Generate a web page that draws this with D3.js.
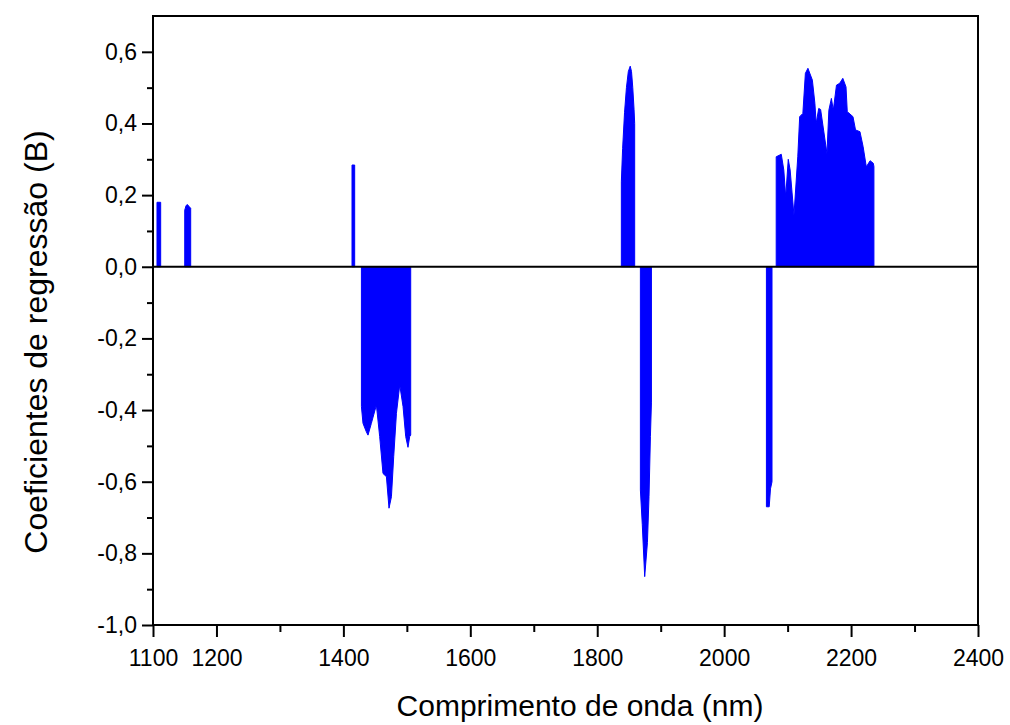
<!DOCTYPE html>
<meta charset="utf-8">
<html>
<head>
<script src="https://cdn.jsdelivr.net/npm/d3@7"></script>
<style>
body { margin:0; background:#fff; }
svg text { font-family:"Liberation Sans", Arial, sans-serif; fill:#000; }
.tick line { stroke:#000; stroke-width:2; }
.tick text { font-size:23px; }
.domain { display:none; }
</style>
</head>
<body>
<script>

// regression coefficient bands, [wavelength nm, B]
var band1107 = [[1106.3, 0.18], [1112.1, 0.18]];
var band1150 = [[1150, 0.158], [1152, 0.170], [1154, 0.174], [1157, 0.168], [1159.4, 0.163]];
var band1415 = [[1413.6, 0.284], [1417.8, 0.284]];
var band1470 = [[1428.4, -0.39], [1430.9, -0.437], [1436, -0.46], [1438.8, -0.47], [1444.1, -0.437],
  [1452, -0.386], [1457.2, -0.474], [1462.4, -0.577], [1467.8, -0.586], [1471.9, -0.674],
  [1475.7, -0.642], [1479.3, -0.53], [1483.6, -0.409], [1488.8, -0.33], [1494, -0.39],
  [1498.2, -0.474], [1501.8, -0.504], [1504.5, -0.474], [1506.1, -0.47]];
var band1850 = [[1838, 0.237], [1840, 0.33], [1843, 0.43], [1846, 0.50], [1849, 0.545], [1852, 0.56],
  [1854, 0.545], [1856, 0.50], [1858, 0.44], [1859, 0.40]];
var band1875 = [[1868, -0.623], [1871, -0.72], [1874.8, -0.865], [1879.1, -0.77], [1881.6, -0.642],
  [1883.8, -0.474], [1885.4, -0.38]];
var band2070 = [[2066.6, -0.67], [2071, -0.67], [2073, -0.62], [2075.4, -0.60]];
var band2160 = [[2082, 0.307], [2090, 0.314], [2094, 0.27], [2097, 0.195], [2101, 0.30], [2104, 0.27],
  [2110, 0.144], [2116, 0.307], [2119, 0.419], [2124, 0.428], [2128, 0.54], [2132, 0.554],
  [2139, 0.521], [2143, 0.456], [2145, 0.40], [2149, 0.442], [2152, 0.439], [2156, 0.39],
  [2162, 0.316], [2165, 0.437], [2169, 0.47], [2172, 0.437], [2177, 0.507], [2182, 0.512],
  [2187, 0.526], [2192, 0.502], [2194, 0.433], [2203, 0.419], [2207, 0.382], [2214, 0.377],
  [2219, 0.335], [2224, 0.279], [2230, 0.296], [2235, 0.289], [2236, 0.28]];

var bands = [band1107, band1150, band1415, band1470, band1850, band1875, band2070, band2160];

// ticks
var xTicks = [1100, 1200, 1400, 1600, 1800, 2000, 2200, 2400];
var xMinor = [1300, 1500, 1700, 1900, 2100, 2300];
var yTicks = [-1.0, -0.8, -0.6, -0.4, -0.2, 0.0, 0.2, 0.4, 0.6];
var yMinor = [-0.9, -0.7, -0.5, -0.3, -0.1, 0.1, 0.3, 0.5];

//Margin conventions (plot box in page pixels)
var m = {left:153, right:978, top:16, bottom:625};

var svg = d3.select("body").append("svg")
    .attr("width", 1010)
    .attr("height", 725);

var x = d3.scaleLinear().domain([1100, 2400]).range([m.left, m.right]);
var y = d3.scaleLinear().domain([-1.0, 0.7]).range([m.bottom, m.top]);

function fmt(v) {
  var s = Math.abs(v).toFixed(1).replace(".", ",");
  return (v < -1e-9 ? "-" : "") + s;
}

// filled coefficient bands
var area = d3.area()
    .x(d => x(d[0]))
    .y0(y(0))
    .y1(d => y(d[1]));

svg.selectAll("path.band")
    .data(bands)
    .enter()
    .append("path")
    .attr("class", "band")
    .attr("d", area)
    .attr("fill", "#0000ff")
    .attr("stroke", "#0000ff")
    .attr("stroke-width", 1);

// zero line
svg.append("line")
    .attr("x1", m.left).attr("x2", m.right)
    .attr("y1", y(0)).attr("y2", y(0))
    .attr("stroke", "#000")
    .attr("stroke-width", 2);

// axes
svg.append("g")
    .attr("transform", `translate(0, ${m.bottom})`)
    .call(d3.axisBottom(x).tickValues(xTicks).tickSize(12).tickPadding(13).tickFormat(d3.format("d")));
svg.append("g")
    .attr("transform", `translate(0, ${m.bottom})`)
    .call(d3.axisBottom(x).tickValues(xMinor).tickSize(7).tickFormat(""));

svg.append("g")
    .attr("transform", `translate(${m.left}, 0)`)
    .call(d3.axisLeft(y).tickValues(yTicks).tickSize(11).tickPadding(5).tickFormat(fmt));
svg.append("g")
    .attr("transform", `translate(${m.left}, 0)`)
    .call(d3.axisLeft(y).tickValues(yMinor).tickSize(6).tickFormat(""));

// frame
svg.append("rect")
    .attr("x", m.left).attr("y", m.top)
    .attr("width", m.right - m.left).attr("height", m.bottom - m.top)
    .attr("fill", "none")
    .attr("stroke", "#000")
    .attr("stroke-width", 2);

// titles
svg.append("text")
    .attr("x", 580)
    .attr("y", 716)
    .attr("text-anchor", "middle")
    .style("font-size", "30px")
    .text("Comprimento de onda (nm)");

svg.append("text")
    .attr("transform", "translate(47, 342) rotate(-90)")
    .attr("text-anchor", "middle")
    .style("font-size", "32px")
    .text("Coeficientes de regressão (B)");

</script>
</body>
</html>
